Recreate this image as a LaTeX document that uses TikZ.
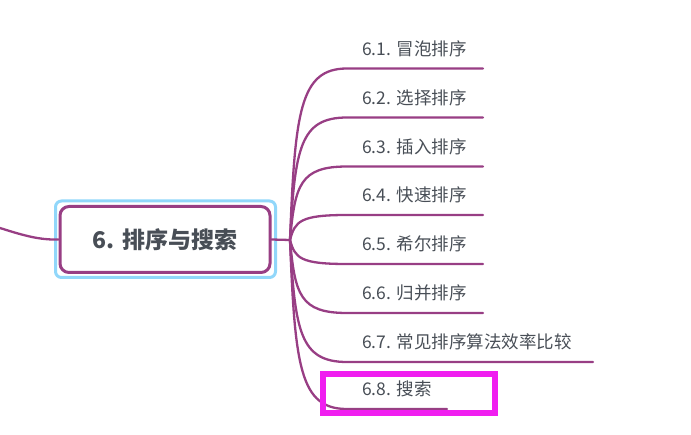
\documentclass[tikz,border=0pt]{standalone}
\usepackage{fontspec}
\newfontfamily\cjk{Noto Sans CJK SC}
\definecolor{branch}{RGB}{152,62,132}
\definecolor{selblue}{RGB}{145,215,250}
\definecolor{txt}{RGB}{72,78,86}
\definecolor{hilite}{RGB}{240,30,240}
\begin{document}
\begin{tikzpicture}[x=1pt,y=-1pt,
  conn/.style={draw=branch,line width=2.3pt,line cap=round},
  leaf/.style={anchor=west,inner sep=0pt,text=txt,font=\cjk\fontsize{17.5}{19}\selectfont},
  mainbox/.style={draw=branch,line width=3pt,rounded corners=9pt,fill=white,minimum width=210pt,minimum height=66pt,text=txt,font=\cjk\bfseries\fontsize{23}{27}\selectfont}]
\useasboundingbox (0,0) rectangle (691,435);
% selection frame
\draw[selblue,line width=3pt,rounded corners=6pt] (55.5,201) rectangle (275.5,277.5);
\node[mainbox] (c) at (165,239.5) {6. 排序与搜索};
\coordinate (lft) at (0,228);
\coordinate (hub) at (290,240);
\draw[conn] (lft) .. controls (25,236) and (40,240) .. (c.west);
\draw[conn] (c.east) -- (hub);
\foreach \i/\y/\e/\t in {1/68.5/483/{6.1. 冒泡排序},2/117.5/483/{6.2. 选择排序},3/166.5/483/{6.3. 插入排序},4/215/483/{6.4. 快速排序},5/264/483/{6.5. 希尔排序},6/313/483/{6.6. 归并排序},7/362/593/{6.7. 常见排序算法效率比较},8/409/447/{6.8. 搜索}}{
  \node[leaf] (b\i) at (362,\y-20) {\t};
  \coordinate (s\i) at (347,\y);
  \coordinate (e\i) at (\e,\y);
  \draw[conn] (hub) .. controls (295,{\y+0.25*(240-\y)}) and (300,\y) .. (s\i) -- (e\i);
}
\draw[hilite,line width=6pt] (323,374.5) rectangle (495,413.5);
\end{tikzpicture}
\end{document}
